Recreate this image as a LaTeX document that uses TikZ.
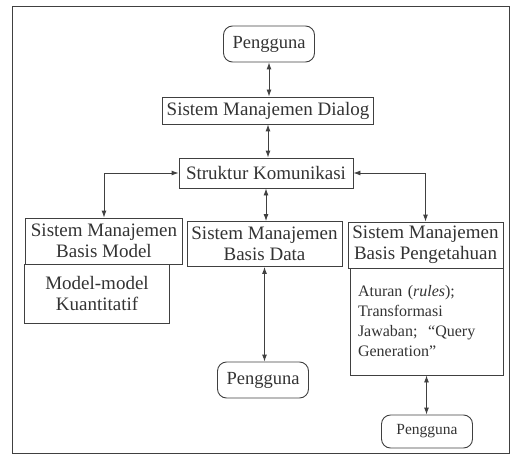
\documentclass[tikz,border=0pt]{standalone}
\usepackage{fontspec}
\setmainfont{Liberation Serif}
\usetikzlibrary{arrows.meta}
\begin{document}
\begin{tikzpicture}[x=1pt, y=-1pt,
  kotak/.style={draw=black!75, line width=0.9pt, text=black!80, inner sep=2pt,
    font=\fontsize{19}{21}\selectfont, align=center},
  pengguna/.style={kotak, rounded corners=9pt, minimum width=91pt, minimum height=36pt,
    font=\fontsize{18.5}{21}\selectfont},
  panah/.style={draw=black!75, line width=0.9pt,
    {Latex[length=7pt,width=5pt]}-{Latex[length=7pt,width=5pt]}}]

% Bingkai
\useasboundingbox (0,0) rectangle (518,457);
\draw [black!75, line width=1pt] (12,7) rectangle (509,453);

% Pengguna, dialog dan struktur komunikasi
\node [pengguna] (pengguna1) at (269,44) {Pengguna};
\node [kotak, minimum width=211pt, minimum height=27pt] (dialog) at (268,110.5) {Sistem Manajemen Dialog};
\node [kotak, minimum width=174pt, minimum height=30pt] (struktur) at (266,173) {Struktur Komunikasi};

% Basis model
\node [kotak, minimum width=157pt, minimum height=46pt] (bmodel) at (104,241) {Sistem Manajemen\\Basis Model};
\node [kotak, minimum width=145pt, minimum height=59pt] (kuantitatif) at (97,293.5) {Model-model\\Kuantitatif};

% Basis data
\node [kotak, minimum width=155pt, minimum height=45pt] (bdata) at (264.5,244) {Sistem Manajemen\\Basis Data};
\node [pengguna] (pengguna2) at (263,380) {Pengguna};

% Basis pengetahuan
\node [kotak, minimum width=155pt, minimum height=46pt] (bpengetahuan) at (425.5,245) {Sistem Manajemen\\Basis Pengetahuan};
\node [kotak, minimum height=107pt, text width=137pt, inner xsep=8pt, align=left,
  font=\fontsize{16}{20}\selectfont] (aturan) at (426.5,321.5)
  {Aturan (\textit{rules});\\Transformasi\\Jawaban;\ \ “Query\\Generation”};
\node [pengguna, minimum height=33pt, font=\fontsize{15.5}{18}\selectfont] (pengguna3) at (427,431.5) {Pengguna};

% Panah
\draw [panah] (pengguna1.south) -- (pengguna1.south |- dialog.north);
\draw [panah] (dialog.south) -- (dialog.south |- struktur.north);
\draw [panah] (struktur.west) -| (bmodel.north);
\draw [panah] (struktur.south) -- (struktur.south |- bdata.north);
\draw [panah] (struktur.east) -| (bpengetahuan.north);
\draw [panah] (bdata.south) -- (bdata.south |- pengguna2.north);
\draw [panah] (aturan.south) -- (aturan.south |- pengguna3.north);
\end{tikzpicture}
\end{document}
